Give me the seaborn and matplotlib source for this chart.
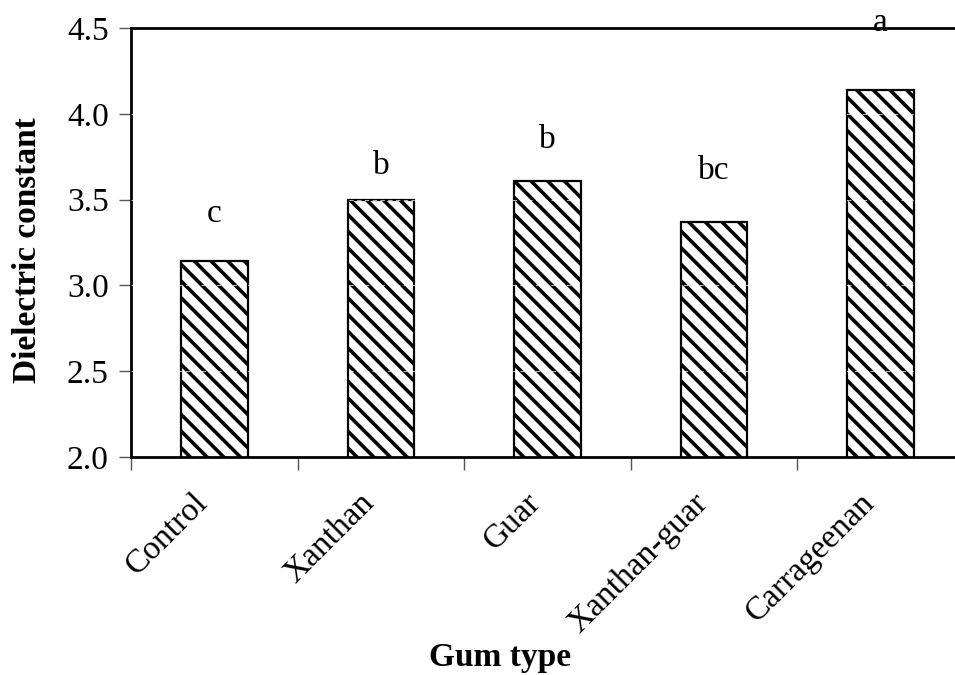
import matplotlib
matplotlib.use("Agg")
import matplotlib.pyplot as plt
import matplotlib.transforms as mtransforms
import seaborn as sns
import pandas as pd

categories = ["Control", "Xanthan", "Guar", "Xanthan-guar", "Carrageenan"]
values = [3.14, 3.50, 3.61, 3.37, 4.14]
letters = ["c", "b", "b", "bc", "a"]
letter_y = [3.42, 3.70, 3.85, 3.67, 4.53]
y_ticks = [2.0, 2.5, 3.0, 3.5, 4.0, 4.5]

sns.set_theme(style="white")
plt.rcParams["font.family"] = ["Liberation Serif", "DejaVu Serif"]
plt.rcParams["hatch.linewidth"] = 2.6
plt.rcParams["hatch.color"] = "black"
plt.rcParams["text.color"] = "black"
plt.rcParams["xtick.labelcolor"] = "black"
plt.rcParams["ytick.labelcolor"] = "black"

FS = 24
df = pd.DataFrame({"gum": categories, "value": values})

fig = plt.figure(figsize=(9.55, 6.75), dpi=100)
W, H = 955, 675
left, right, top, bottom = 131, 964, 28, 457
ax = fig.add_axes([left / W, 1 - bottom / H, (right - left) / W, (bottom - top) / H])

sns.barplot(data=df, x="gum", y="value", ax=ax, color="white", edgecolor="black",
            linewidth=1.6, width=0.4, saturation=1, zorder=2)
for p in ax.patches:
    p.set_facecolor("white")
    p.set_hatch("\\\\")

ax.set_ylim(2.0, 4.5)
ax.set_xlim(-0.5, 4.5)
ax.set_yticks(y_ticks)
ax.set_yticklabels([f"{t:.1f}" for t in y_ticks], fontsize=FS)
ax.set_xticks(range(len(categories)))
ax.set_xticklabels(categories, rotation=45, ha="right", rotation_mode="anchor", fontsize=FS)
ax.set_xticks([i - 0.5 for i in range(len(categories) + 1)], minor=True)
ax.tick_params(axis="x", which="major", length=0, pad=22)
ax.tick_params(axis="x", which="minor", length=9, width=1, color="#555555", direction="out", bottom=True)
ax.tick_params(axis="y", length=9, width=1, color="#555555", direction="out", pad=7, left=True)
offset = mtransforms.ScaledTranslation(-22 / 100, 0, fig.dpi_scale_trans)
for lbl in ax.get_xticklabels():
    lbl.set_transform(lbl.get_transform() + offset)

for t in y_ticks[1:-1]:
    ax.axhline(t, color="white", lw=0.8, ls=(0, (4, 3)), zorder=3, alpha=0.7)

for s in ["left", "top", "bottom"]:
    ax.spines[s].set_visible(True)
    ax.spines[s].set_color("black")
    ax.spines[s].set_linewidth(2)
ax.spines["right"].set_visible(False)

for i, (lab, ly) in enumerate(zip(letters, letter_y)):
    ax.text(i, ly, lab, ha="center", va="center", fontsize=FS, zorder=4)

ax.set_xlabel("")
ax.set_ylabel("")
fig.text(28 / W, 1 - 250 / H, "Dielectric constant", rotation=90, ha="center", va="center",
         fontsize=FS, fontweight="bold")
fig.text(500 / W, 1 - 666 / H, "Gum type", ha="center", va="baseline",
         fontsize=FS, fontweight="bold")

fig.savefig("out.png", dpi=100)
